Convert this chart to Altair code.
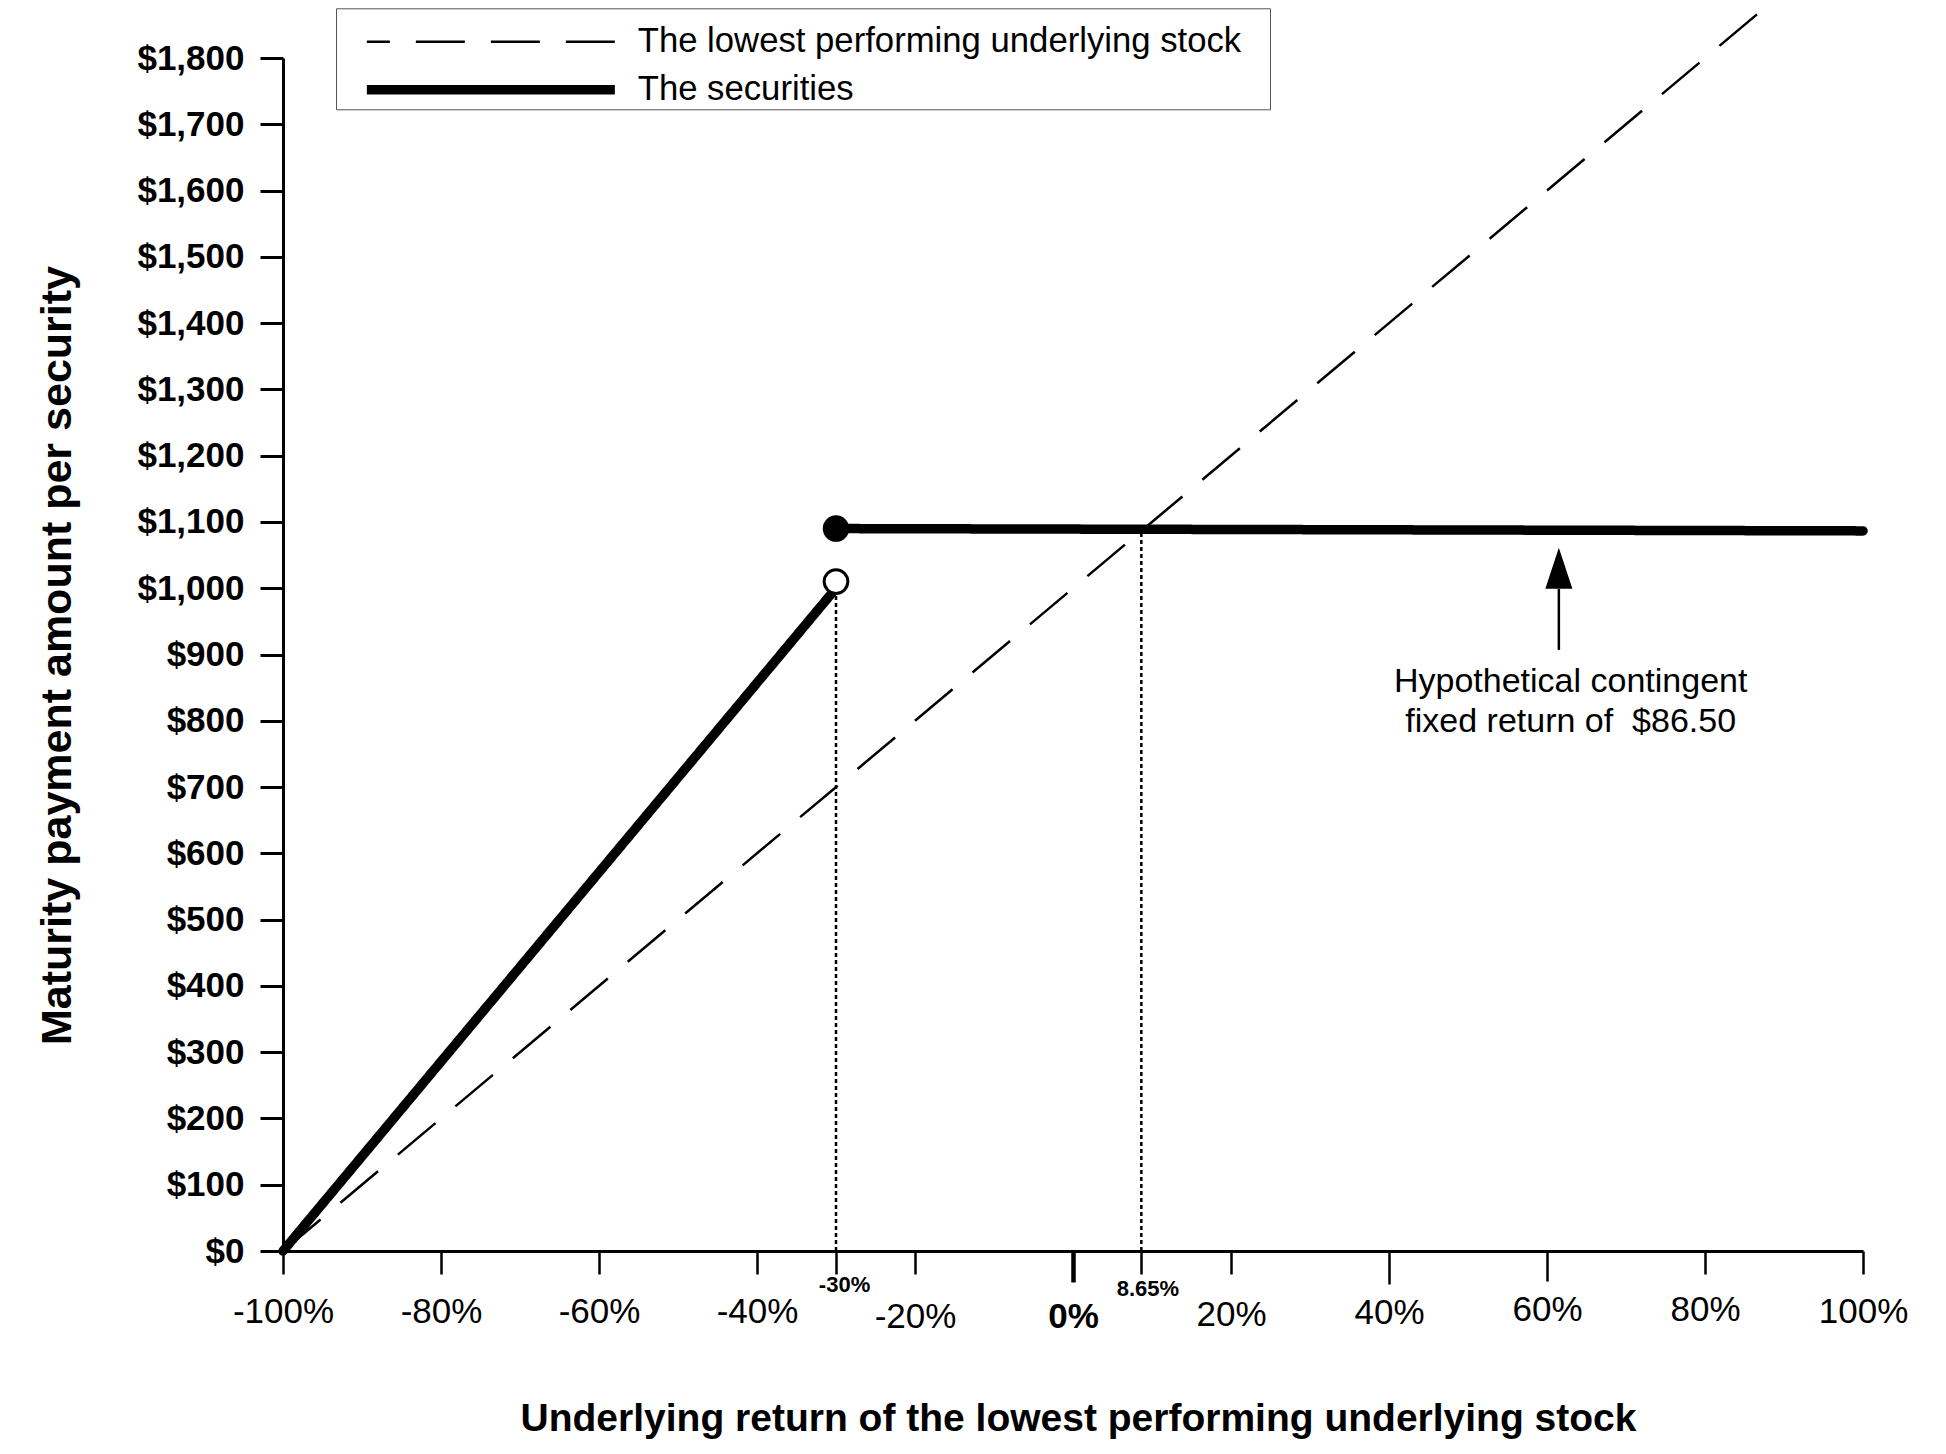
import altair as alt
import pandas as pd

FONT = "Liberation Sans"
NBSP = "\u00a0"

# ---------------- data ----------------
series_names = ["The lowest performing underlying stock", "The securities"]

# dashed: lowest performing underlying stock (return %, payment $)
stock_x = [-100, 88]
stock_y = [0, 1880]

# solid: the securities (two pieces)
sec_segment = ["below", "below", "above", "above"]
sec_x = [-100, -30, -30, 100]
sec_y = [0, 1000, 1090, 1086.5]

# markers at the -30% threshold
filled_dot_x = [-30]
filled_dot_y = [1090]
open_dot_x = [-30]
open_dot_y = [1010]

# dotted guide lines
guide_x = [-30, 8.65]
guide_bottom = [0, 0]
guide_top = [1000, 1088]

# annotation arrow and text
arrow_x = [61.5]
arrow_base = [907]
arrow_neck = [999]
arrow_head = [1030]
note_x = [63.0]
note_y = [843.7]
note_text = ["Hypothetical contingent\nfixed return of " + NBSP + "$86.50"]

x_ticks = [-100, -80, -60, -40, -30, -20, 0, 8.65, 20, 40, 60, 80, 100]
y_ticks = [0, 100, 200, 300, 400, 500, 600, 700, 800, 900, 1000,
           1100, 1200, 1300, 1400, 1500, 1600, 1700, 1800]

# ---------------- tables ----------------
stock_df = pd.DataFrame({"x": stock_x, "y": stock_y, "series": series_names[0]})
sec_df = pd.DataFrame({"x": sec_x, "y": sec_y, "segment": sec_segment,
                       "series": series_names[1]})
filled_df = pd.DataFrame({"x": filled_dot_x, "y": filled_dot_y})
open_df = pd.DataFrame({"x": open_dot_x, "y": open_dot_y})
guide_df = pd.DataFrame({"x": guide_x, "y": guide_bottom, "top": guide_top})
shaft_df = pd.DataFrame({"x": arrow_x, "y": arrow_base, "top": arrow_neck})
head_df = pd.DataFrame({"x": arrow_x, "y": arrow_head})
note_df = pd.DataFrame({"x": note_x, "y": note_y, "text": note_text})

# ---------------- scales / axes ----------------
x_scale = alt.Scale(domain=[-100, 100], nice=False, zero=False)
y_scale = alt.Scale(domain=[0, 1800], nice=False, zero=False)
dash_scale = alt.Scale(domain=series_names, range=[[49, 26], [1, 0]])

small = "datum.value == -30 || datum.value == 8.65"

x_axis = alt.Axis(
    values=x_ticks,
    labelExpr="datum.value + '%'",
    labelFont=FONT,
    labelColor="black",
    labelFontSize={"condition": {"test": small, "value": 22}, "value": 35},
    labelFontWeight={"condition": {"test": small + " || datum.value == 0", "value": "bold"},
                     "value": "normal"},
    labelPadding={"condition": [
        {"test": "datum.value == -30", "value": 0},
        {"test": "datum.value == 8.65", "value": 4},
        {"test": "datum.value == -20", "value": 25},
        {"test": "datum.value == 0", "value": 17},
        {"test": "datum.value == 20", "value": 23},
        {"test": "datum.value == 40", "value": 11},
        {"test": "datum.value == 60", "value": 11},
        {"test": "datum.value == 80", "value": 18},
    ], "value": 20},
    labelOffset={"condition": [
        {"test": "datum.value == -30", "value": 8},
        {"test": "datum.value == 8.65", "value": 6},
    ], "value": 0},
    tickSize={"condition": [
        {"test": "datum.value == 0", "value": 31},
        {"test": "datum.value == 40", "value": 33},
        {"test": "datum.value == 60", "value": 30},
    ], "value": 23},
    tickWidth={"condition": {"test": "datum.value == 0", "value": 4.5}, "value": 2.5},
    tickColor="black",
    domainColor="black",
    domainWidth=3,
    grid=False,
    labelFlush=False,
    labelOverlap=False,
    labelBound=False,
    title="Underlying return of the lowest performing underlying stock",
    titleFont=FONT,
    titleFontSize=39,
    titleFontWeight="bold",
    titleColor="black",
    titleX=795,
    titleY=179,
    titleAlign="center",
    titleBaseline="alphabetic",
)

y_axis = alt.Axis(
    values=y_ticks,
    format="$,.0f",
    labelFont=FONT,
    labelFontSize=35,
    labelFontWeight="bold",
    labelColor="black",
    labelPadding=16,
    labelFlush=False,
    labelOverlap=False,
    tickSize=23,
    tickWidth=3,
    tickColor="black",
    domainColor="black",
    domainWidth=3,
    grid=False,
    title="Maturity payment amount per security",
    titleFont=FONT,
    titleFontSize=43,
    titleFontWeight="bold",
    titleColor="black",
    titleAngle=270,
    titleX=-213,
    titleY=597,
    titleAlign="center",
    titleBaseline="alphabetic",
)

# legend sample: a drawn stroke plus an invisible move-to that widens the frame
legend = alt.Legend(
    title=NBSP,
    titleFontSize=8,
    titlePadding=7.5,
    orient="none",
    legendX=53,
    legendY=-49.7,
    direction="vertical",
    symbolType="M2.6,0L52.2,0M179.2,0",
    symbolSize=100,
    symbolStrokeColor="black",
    symbolFillColor="transparent",
    symbolStrokeWidth={"expr": "(datum.value == 'The securities' ? 9.5 : 2.5)"},
    symbolDashOffset=26,
    labelFont=FONT,
    labelFontSize=34.7,
    labelColor="black",
    labelLimit=3000,
    labelOffset=266.5,
    rowPadding=11,
    padding=0.5,
    strokeColor="#555555",
    fillColor="white",
)

X = alt.X("x:Q", scale=x_scale, axis=x_axis)
Y = alt.Y("y:Q", scale=y_scale, axis=y_axis)

guides = alt.Chart(guide_df).mark_rule(
    color="black", strokeWidth=2.5, strokeDash=[4, 3]
).encode(x=X, y=Y, y2="top:Q")

stock_line = alt.Chart(stock_df).mark_line(
    color="black", strokeWidth=2.5, strokeCap="butt"
).encode(x=X, y=Y, strokeDash=alt.StrokeDash("series:N", scale=dash_scale, legend=legend))

sec_line = alt.Chart(sec_df).mark_line(
    color="black", strokeWidth=9.5, strokeCap="round", strokeJoin="round"
).encode(
    x=X, y=Y, detail="segment:N",
    strokeDash=alt.StrokeDash("series:N", scale=dash_scale, legend=legend),
)

open_dot = alt.Chart(open_df).mark_point(
    shape="circle", filled=True, fill="white", stroke="black", strokeWidth=3,
    size=560, opacity=1
).encode(x=X, y=Y)

filled_dot = alt.Chart(filled_df).mark_point(
    shape="circle", filled=True, color="black", size=700, opacity=1
).encode(x=X, y=Y)

shaft = alt.Chart(shaft_df).mark_rule(color="black", strokeWidth=2.5).encode(
    x=X, y=Y, y2="top:Q")

head = alt.Chart(head_df).mark_point(
    shape="M0,-1L0.66,1L-0.66,1Z", filled=True, color="black", size=1681, opacity=1
).encode(x=X, y=Y)

note = alt.Chart(note_df).mark_text(
    align="center", baseline="alphabetic", font=FONT, fontSize=34,
    lineBreak="\n", lineHeight=40, color="black"
).encode(x=X, y=Y, text="text:N")

chart = alt.layer(
    guides, stock_line, sec_line, open_dot, filled_dot, shaft, head, note
).properties(
    width=1580,
    height=1193,
    padding={"left": 275, "top": 50, "right": 75, "bottom": 195},
    autosize=alt.AutoSizeParams(type="none"),
    background="white",
).configure(
    font=FONT,
    view=alt.ViewConfig(stroke="transparent"),
)

chart.save("out.html", embed_options={"renderer": "svg", "actions": False})
